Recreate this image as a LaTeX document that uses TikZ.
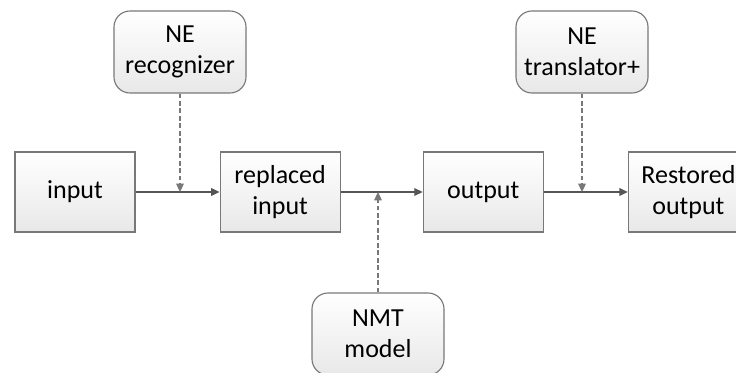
\documentclass[tikz,border=0pt]{standalone}
\usepackage{fontspec}
\setmainfont{Carlito}
\usepackage{xcolor}
\usepackage{tikz}
\usetikzlibrary{positioning,arrows.meta}

\definecolor{boxline}{RGB}{120,120,120}
\definecolor{flowline}{RGB}{85,85,85}

\tikzset{
  stepbox/.style={draw=boxline, line width=0.8pt, top color=white, bottom color=black!9,
    minimum width=3cm, minimum height=2cm, align=center,
    font=\fontsize{18.5}{22}\selectfont},
  toolbox/.style={stepbox, rounded corners=0.4cm, minimum width=3.3cm, minimum height=2.05cm},
  flow/.style={draw=flowline, line width=0.9pt, -{Triangle[length=6pt,width=5.5pt]}},
  hint/.style={flow, dash pattern=on 3.5pt off 1.8pt, draw=boxline}
}

\begin{document}
\begin{tikzpicture}
\useasboundingbox (0,0) rectangle (18.4,9.3);

\node[stepbox](input) at (1.875,4.5) {input};
\node[stepbox, right=2.1cm of input](replaced) {replaced\\input};
\node[stepbox, right=2.05cm of replaced](output) {output};
\node[stepbox, right=2.1cm of output](restored) {Restored\\output};

\node[toolbox](recog) at (4.5,8.0) {NE\\recognizer};
\node[toolbox](nmt) at (9.45,0.95) {NMT\\model};
\node[toolbox](trans) at (14.55,8.0) {NE\\translator+};

\draw[flow] (input) -- (replaced);
\draw[flow] (replaced) -- (output);
\draw[flow] (output) -- (restored);

\draw[hint] (recog.south) -- (recog.south |- input.east);
\draw[hint] (nmt.north) -- (nmt.north |- replaced.east);
\draw[hint] (trans.south) -- (trans.south |- output.east);
\end{tikzpicture}
\end{document}
